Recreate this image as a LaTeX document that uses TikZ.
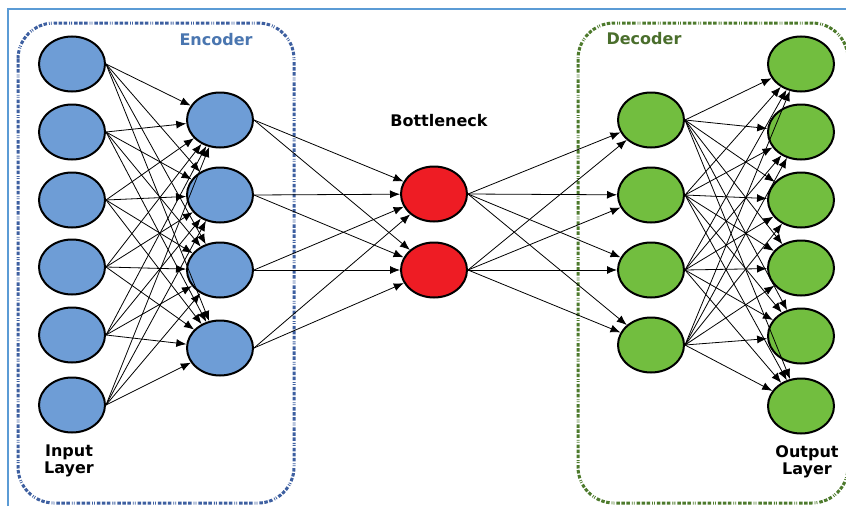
\documentclass[tikz,border=0pt]{standalone}
\usepackage{fontspec}
\setmainfont{DejaVu Sans}
\usetikzlibrary{shapes.geometric,arrows.meta}
\definecolor{nblue}{HTML}{6E9DD6}
\definecolor{ngreen}{HTML}{72BE3F}
\definecolor{nred}{HTML}{EE1C24}
\definecolor{encblue}{HTML}{3D5FA0}
\definecolor{enctext}{HTML}{4A76B0}
\definecolor{decgreen}{HTML}{4D7A2C}
\definecolor{dectext}{HTML}{4A6E2C}
\definecolor{framecol}{HTML}{5B9BD5}
\tikzset{
  neuron/.style={ellipse, draw=black, line width=2pt, minimum width=66pt, minimum height=55pt, inner sep=0pt},
  bluen/.style={neuron, fill=nblue},
  greenn/.style={neuron, fill=ngreen},
  redn/.style={neuron, fill=nred},
  conn/.style={line width=0.8pt, -{Latex[length=10pt,width=8pt]}},
  groupbox/.style={line width=3pt, rounded corners=36pt,
    dash pattern=on 3.5pt off 1.5pt on 3.5pt off 1.5pt on 3.5pt off 2pt on 0.8pt off 1.2pt on 0.8pt off 2pt},
  lbl/.style={font=\bfseries\fontsize{16}{17}\selectfont, inner sep=0pt, align=center}
}
\begin{document}
\begin{tikzpicture}[x=1pt,y=-1pt]
\useasboundingbox (0,0) rectangle (846,506);
\fill[white] (0,0) rectangle (846,506);
% outer frame
\draw[framecol, line width=1.5pt] (8,506) -- (8,9) -- (846,9);
% group boxes
\draw[groupbox, encblue] (18,23) rectangle (294,503);
\draw[groupbox, decgreen] (578,23) rectangle (848,503);
% labels
\node[lbl, text=enctext] (enc) at (216,40) {Encoder};
\node[lbl, text=dectext] (dec) at (644,39) {Decoder};
\node[lbl] (bn) at (439,121) {Bottleneck};
\node[lbl] (inl) at (69,461) {Input\\Layer};
\node[lbl] (outl) at (807,462) {Output\\Layer};
% input layer
\foreach \i/\y in {1/64,2/132,3/200,4/267,5/335,6/405}
  \node[bluen] (i\i) at (72,\y) {};
% encoder hidden
\foreach \i/\y in {1/120,2/195,3/270,4/348}
  \node[bluen] (h\i) at (220,\y) {};
% bottleneck
\foreach \i/\y in {1/194,2/270}
  \node[redn] (b\i) at (434,\y) {};
% decoder hidden
\foreach \i/\y in {1/120,2/195,3/270,4/345}
  \node[greenn] (d\i) at (651,\y) {};
% output layer
\foreach \i/\y in {1/64,2/132,3/200,4/268,5/336,6/406}
  \node[greenn] (o\i) at (801,\y) {};
% connections
\foreach \a in {1,...,6}
  \foreach \b in {1,...,4}
    \draw[conn] (i\a.east) -- (h\b);
\foreach \a in {1,...,4}
  \foreach \b in {1,2}
    \draw[conn] (h\a.east) -- (b\b);
\foreach \a in {1,2}
  \foreach \b in {1,...,4}
    \draw[conn] (b\a.east) -- (d\b);
\foreach \a in {1,...,4}
  \foreach \b in {1,...,6}
    \draw[conn] (d\a.east) -- (o\b);
\end{tikzpicture}
\end{document}
